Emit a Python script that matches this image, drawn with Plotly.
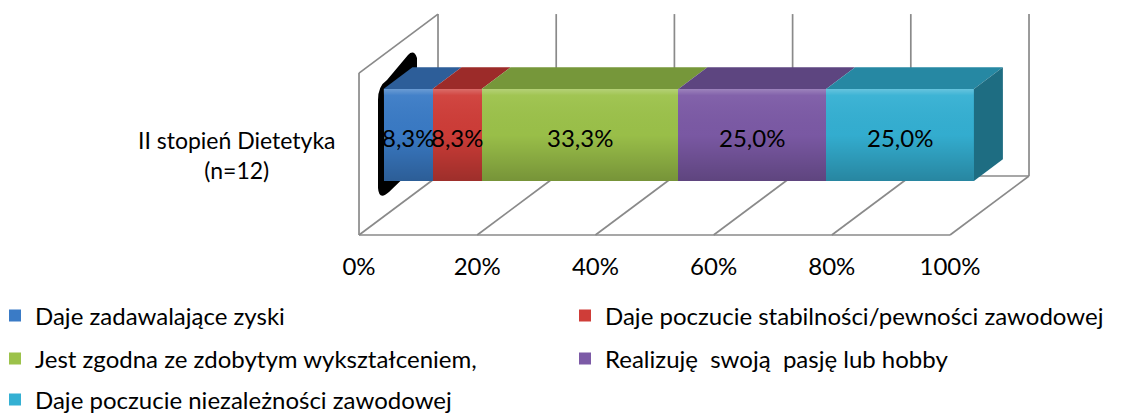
import numpy as np
import plotly.graph_objects as go

# ---- data -------------------------------------------------------------
categories = ["II stopień Dietetyka<br>(n=12)"]
series_names = [
    "Daje zadawalające zyski",
    "Daje poczucie stabilności/pewności zawodowej",
    "Jest zgodna ze zdobytym wykształceniem,",
    "Realizuję\u00a0 swoją\u00a0 pasję lub hobby",
    "Daje poczucie niezależności zawodowej",
]
series_values = [8.3, 8.3, 33.3, 25.0, 25.0]
tick_values = [0, 20, 40, 60, 80, 100]
tick_labels = ["0%", "20%", "40%", "60%", "80%", "100%"]

# ---- style ------------------------------------------------------------
front_colors = ["#3a7bc6", "#cf3d38", "#9cc24a", "#7c5aa6", "#34b0d3"]
top_colors = ["#2d5e99", "#9c2b29", "#76973a", "#5d4580", "#2688a3"]
side_color = "#1e6d82"
grid_color = "#8a8a8a"
FONT = "Lato"
W, H = 1131, 414

# legend slots: (left edge px, row centre px) in a two-column grid
legend_slots = [(-5, 316), (565, 316), (-5, 359), (565, 359), (-5, 400)]

# ---- 3D projection of the chart box ------------------------------------
PX_PER_PCT = 5.91      # horizontal pixels per percent
PX_PER_CAT = 184.0     # vertical pixels per category unit
DEPTH_DX, DEPTH_DY = 79.0, 59.0   # screen shift across the full depth
BAR_D0, BAR_D1 = 0.31, 0.677       # bar front / back depth
FLOOR_H, TOP_H = -0.444, 0.436     # floor and wall top (category units)
BAR_HALF = 0.25

X0_PX, CAT_PX = 383.5, 135.0       # bar-front origin on screen
xmin = -X0_PX / PX_PER_PCT
xmax = xmin + W / PX_PER_PCT
ymax = CAT_PX / PX_PER_CAT
ymin = ymax - H / PX_PER_CAT


def proj(v, h, d):
    """Map (value, height, depth) onto the bar-front plane axes."""
    return (v + (d - BAR_D0) * DEPTH_DX / PX_PER_PCT,
            h + (d - BAR_D0) * DEPTH_DY / PX_PER_CAT)


def px2data(px, py):
    return xmin + px / PX_PER_PCT, ymax - py / PX_PER_CAT


def path_of(points):
    return "M" + " L".join(f"{x:.4f},{y:.4f}" for x, y in points) + " Z"


values = np.array(series_values)
ends = np.cumsum(values)
starts = ends - values
total = float(ends[-1])

legend_ids = ["legend"] + [f"legend{k}" for k in range(2, len(series_names) + 1)]

fig = go.Figure()

# front faces of the stacked bar
for i, (name, val) in enumerate(zip(series_names, series_values)):
    fig.add_trace(go.Bar(
        y=categories, x=[val], name=name, orientation="h", width=2 * BAR_HALF,
        marker=dict(color=front_colors[i], line=dict(width=0)),
        textposition="none",
        legend=legend_ids[i],
        hoverinfo="name+x",
    ))

# vertical shading over the front faces
gx = [0, total, total, 0, 0]
gy = [-BAR_HALF, -BAR_HALF, BAR_HALF, BAR_HALF, -BAR_HALF]
fig.add_trace(go.Scatter(
    x=gx, y=gy, yaxis="y2", mode="lines", line=dict(width=0),
    fill="toself",
    fillgradient=dict(type="vertical", colorscale=[
        [0.0, "rgba(0,0,0,0.24)"], [0.5, "rgba(0,0,0,0.02)"],
        [0.93, "rgba(255,255,255,0.05)"], [1.0, "rgba(255,255,255,0.25)"]]),
    showlegend=False, hoverinfo="skip",
))

shapes = []
line_style = dict(color=grid_color, width=1.7)


def seg(a, b, layer="below"):
    shapes.append(dict(type="line", xref="x", yref="y",
                       x0=a[0], y0=a[1], x1=b[0], y1=b[1],
                       line=line_style, layer=layer))


# back wall and floor grid
for v in tick_values:
    seg(proj(v, FLOOR_H, 1), proj(v, TOP_H, 1))
    seg(proj(v, FLOOR_H, 0), proj(v, FLOOR_H, 1))
seg(proj(0, FLOOR_H, 0), proj(100, FLOOR_H, 0))
seg(proj(0, FLOOR_H, 1), proj(100, FLOOR_H, 1))
# left side wall outline
seg(proj(0, FLOOR_H, 0), proj(0, TOP_H, 0))
seg(proj(0, TOP_H, 0), proj(0, TOP_H, 1))

# dark shadow behind the left end of the bar
bp = [px2data(*p) for p in [(378, 100), (378, 86), (387, 80), (408, 55),
                            (414, 49), (417, 58), (417, 165), (389, 192),
                            (379, 201), (378, 188)]]
shapes.append(dict(
    type="path", xref="x", yref="y", layer="below",
    path=(f"M{bp[0][0]},{bp[0][1]} Q{bp[1][0]},{bp[1][1]} {bp[2][0]},{bp[2][1]} "
          f"L{bp[3][0]},{bp[3][1]} Q{bp[4][0]},{bp[4][1]} {bp[5][0]},{bp[5][1]} "
          f"L{bp[6][0]},{bp[6][1]} L{bp[7][0]},{bp[7][1]} "
          f"Q{bp[8][0]},{bp[8][1]} {bp[9][0]},{bp[9][1]} Z"),
    fillcolor="black", line=dict(width=0),
))

# top faces of each segment
for i in range(len(values)):
    s, e = float(starts[i]), float(ends[i])
    pts = [proj(s, BAR_HALF, BAR_D0), proj(e, BAR_HALF, BAR_D0),
           proj(e, BAR_HALF, BAR_D1), proj(s, BAR_HALF, BAR_D1)]
    shapes.append(dict(type="path", xref="x", yref="y", layer="above",
                       path=path_of(pts), fillcolor=top_colors[i],
                       line=dict(width=0)))

# right end face of the bar
pts = [proj(total, -BAR_HALF, BAR_D0), proj(total, BAR_HALF, BAR_D0),
       proj(total, BAR_HALF, BAR_D1), proj(total, -BAR_HALF, BAR_D1)]
shapes.append(dict(type="path", xref="x", yref="y", layer="above",
                   path=path_of(pts), fillcolor=side_color,
                   line=dict(width=0)))

annotations = []

# value labels centred on each front face
for s, v in zip(starts, values):
    annotations.append(dict(
        x=float(s + v / 2), y=0, xref="x", yref="y",
        text=f"{v:.1f}".replace(".", ",") + "%", showarrow=False,
        xanchor="center", yanchor="middle", yshift=-2,
        font=dict(family=FONT, size=24, color="black"),
    ))

# category label at the front plane
lx, ly = proj(0, 0, 0)
annotations.append(dict(
    x=lx, y=ly, xref="x", yref="y", text=categories[0], showarrow=False,
    xanchor="right", yanchor="middle", align="center", xshift=-21, yshift=-2,
    font=dict(family=FONT, size=23, color="black"),
))

shift = BAR_D0 * DEPTH_DX / PX_PER_PCT

legends = {}
for lid, (lxp, lyp) in zip(legend_ids, legend_slots):
    legends[lid] = dict(
        orientation="h", x=lxp / W, xanchor="left",
        y=1 - lyp / H, yanchor="middle", traceorder="normal",
        bgcolor="rgba(0,0,0,0)",
        font=dict(family=FONT, size=24, color="black"),
    )

fig.update_layout(
    width=W, height=H, autosize=False,
    margin=dict(l=0, r=0, t=0, b=0, pad=0, autoexpand=False),
    paper_bgcolor="white", plot_bgcolor="rgba(0,0,0,0)",
    barmode="stack",
    font=dict(family=FONT, size=22, color="black"),
    xaxis=dict(range=[xmin, xmax], showgrid=False, zeroline=False,
               showticklabels=False, showline=False, fixedrange=True),
    xaxis2=dict(range=[xmin + shift, xmax + shift], overlaying="x",
                anchor="free", position=1 - 250 / H, side="bottom",
                tickmode="array", tickvals=tick_values, ticktext=tick_labels,
                showgrid=False, zeroline=False, showline=False, ticks="",
                tickfont=dict(family=FONT, size=24, color="black")),
    yaxis=dict(type="category", range=[ymin, ymax], showgrid=False,
               zeroline=False, showticklabels=False, showline=False),
    yaxis2=dict(range=[ymin, ymax], overlaying="y", visible=False),
    shapes=shapes, annotations=annotations,
    **legends,
)

# an empty trace keeps the tick-label axis attached
fig.add_trace(go.Scatter(x=[], y=[], xaxis="x2", showlegend=False,
                         hoverinfo="skip"))

fig.write_html("out.html")
